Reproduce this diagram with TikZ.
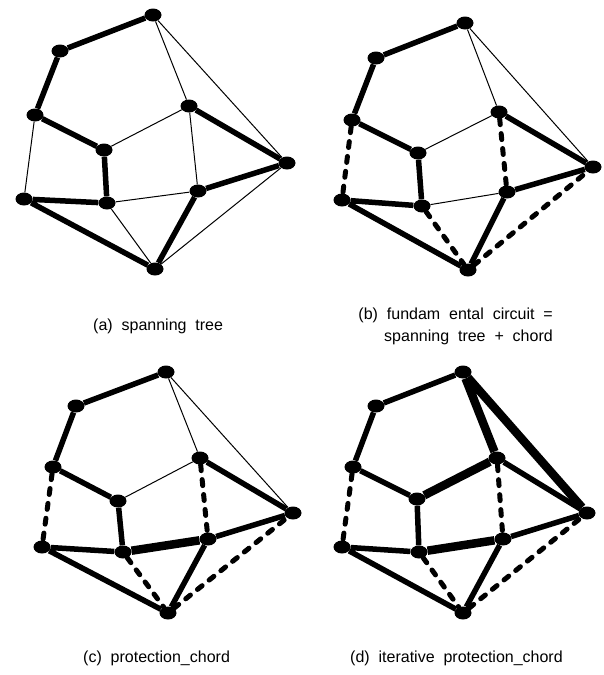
\documentclass[tikz,border=0pt]{standalone}
\usepackage{fontspec}
\setmainfont{Liberation Sans}[WordSpace=2]
\usetikzlibrary{shapes.geometric}
\begin{document}
\begin{tikzpicture}[x=1pt,y=-1pt,
  vtx/.style={ellipse,fill=black,draw=none,minimum width=17pt,minimum height=13pt,inner sep=0pt},
  tree/.style={line width=5.5pt},
  thinedge/.style={line width=1pt},
  dashedge/.style={line width=5pt,line cap=round,dash pattern=on 6pt off 9pt},
  prot/.style={line width=8.5pt},
  lbl/.style={font=\fontsize{16}{18}\selectfont,inner sep=0pt}]
\useasboundingbox (0,0) rectangle (604,675);
% ---------- (a) ----------
\node[vtx] (a1) at (153,15) {};
\node[vtx] (b1) at (60,51) {};
\node[vtx] (c1) at (35,115) {};
\node[vtx] (d1) at (104,150) {};
\node[vtx] (e1) at (24,199) {};
\node[vtx] (f1) at (107,203) {};
\node[vtx] (g1) at (189,106) {};
\node[vtx] (h1) at (198,191) {};
\node[vtx] (i1) at (287,163) {};
\node[vtx] (j1) at (155,269) {};
\draw[tree] (a1)--(b1) (b1)--(c1) (c1)--(d1) (d1)--(f1) (e1)--(f1) (e1)--(j1) (j1)--(h1) (h1)--(i1) (i1)--(g1);
\draw[thinedge] (a1)--(g1) (a1)--(i1) (c1)--(e1) (d1)--(g1) (f1)--(h1) (f1)--(j1) (j1)--(i1) (g1)--(h1);
\node[lbl,anchor=west] (la) at (93,326) {(a) spanning tree};
% ---------- (b) ----------
\node[vtx] (a2) at (465,23) {};
\node[vtx] (b2) at (376,58) {};
\node[vtx] (c2) at (352,120) {};
\node[vtx] (d2) at (418,153) {};
\node[vtx] (e2) at (342,200) {};
\node[vtx] (f2) at (422,206) {};
\node[vtx] (g2) at (499,112) {};
\node[vtx] (h2) at (507,192) {};
\node[vtx] (i2) at (593,167) {};
\node[vtx] (j2) at (468,270) {};
\draw[tree] (a2)--(b2) (b2)--(c2) (c2)--(d2) (d2)--(f2) (e2)--(f2) (e2)--(j2) (j2)--(h2) (h2)--(i2) (i2)--(g2);
\draw[thinedge] (a2)--(g2) (a2)--(i2) (d2)--(g2) (f2)--(h2);
\draw[dashedge] (c2)--(e2) (g2)--(h2) (f2)--(j2) (j2)--(i2);
\node[lbl,anchor=east] (lb1) at (553,315) {(b) fundam ental circuit =};
\node[lbl,anchor=east] (lb2) at (553,337) {spanning tree + chord};
% ---------- (c) ----------
\node[vtx] (a3) at (166,372) {};
\node[vtx] (b3) at (76,406) {};
\node[vtx] (c3) at (53,467) {};
\node[vtx] (d3) at (118,501) {};
\node[vtx] (e3) at (42,547) {};
\node[vtx] (f3) at (123,552) {};
\node[vtx] (g3) at (200,458) {};
\node[vtx] (h3) at (208,539) {};
\node[vtx] (i3) at (293,513) {};
\node[vtx] (j3) at (168,613) {};
\draw[tree] (a3)--(b3) (b3)--(c3) (c3)--(d3) (d3)--(f3) (e3)--(f3) (e3)--(j3) (j3)--(h3) (h3)--(i3) (i3)--(g3);
\draw[prot] (f3)--(h3);
\draw[thinedge] (a3)--(g3) (a3)--(i3) (d3)--(g3);
\draw[dashedge] (c3)--(e3) (g3)--(h3) (f3)--(j3) (j3)--(i3);
\node[lbl,anchor=west] (lc) at (83,658) {(c) protection\_chord};
% ---------- (d) ----------
\node[vtx] (a4) at (463,372) {};
\node[vtx] (b4) at (376,406) {};
\node[vtx] (c4) at (353,467) {};
\node[vtx] (d4) at (417,499) {};
\node[vtx] (e4) at (342,547) {};
\node[vtx] (f4) at (419,552) {};
\node[vtx] (g4) at (497,458) {};
\node[vtx] (h4) at (503,539) {};
\node[vtx] (i4) at (587,513) {};
\node[vtx] (j4) at (463,613) {};
\draw[tree] (a4)--(b4) (b4)--(c4) (c4)--(d4) (d4)--(f4) (e4)--(f4) (e4)--(j4) (j4)--(h4) (h4)--(i4) (i4)--(g4);
\draw[prot] (a4)--(g4) (a4)--(i4) (d4)--(g4) (f4)--(h4);
\draw[dashedge] (c4)--(e4) (g4)--(h4) (f4)--(j4) (j4)--(i4);
\node[lbl,anchor=west] (ld) at (350,658) {(d) iterative protection\_chord};
\end{tikzpicture}
\end{document}
